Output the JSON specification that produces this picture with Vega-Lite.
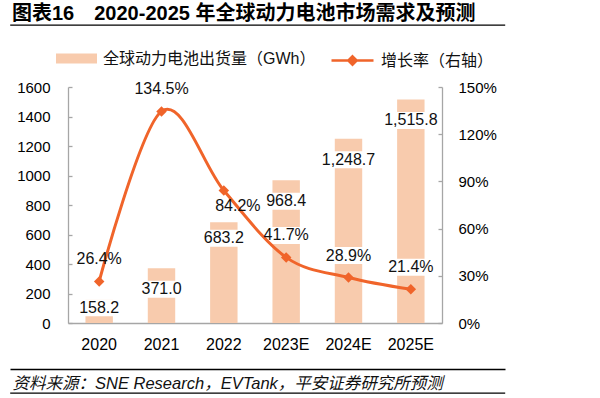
{
  "$schema": "https://vega.github.io/schema/vega-lite/v6.json",
  "background": "white",
  "autosize": "none",
  "width": 495,
  "height": 368,
  "padding": {"left": 10, "top": 25, "right": 95, "bottom": 5},
  "config": {
    "font": "Liberation Sans, Noto Sans CJK SC, sans-serif",
    "view": {"stroke": "#000", "strokeWidth": 1.3, "strokeDash": [495, 368]}
  },
  "title": {
    "text": "图表16\u30002020-2025 年全球动力电池市场需求及预测",
    "anchor": "start",
    "orient": "top",
    "frame": "group",
    "fontSize": 20,
    "fontWeight": "bold",
    "color": "#000",
    "offset": 1,
    "dx": 2
  },
  "data": {
    "values": [
      {"year": "2020", "shipments": 158.2, "growth": 0.264},
      {"year": "2021", "shipments": 371.0, "growth": 1.345},
      {"year": "2022", "shipments": 683.2, "growth": 0.842},
      {"year": "2023E", "shipments": 968.4, "growth": 0.417},
      {"year": "2024E", "shipments": 1248.7, "growth": 0.289},
      {"year": "2025E", "shipments": 1515.8, "growth": 0.214}
    ]
  },
  "layer": [
    {
      "encoding": {
        "x": {
          "field": "year",
          "type": "ordinal",
          "sort": null,
          "scale": {"range": [58, 432], "paddingInner": 0.56, "paddingOuter": 0.28},
          "axis": {
            "title": null,
            "orient": "bottom",
            "offset": -70,
            "labelAngle": 0,
            "labelFontSize": 16,
            "labelColor": "#000",
            "labelPadding": 13,
            "ticks": false,
            "domainColor": "#A6A6A6",
            "domainWidth": 1.3,
            "grid": false
          }
        }
      },
      "layer": [
        {
          "encoding": {
            "y": {
              "field": "shipments",
              "type": "quantitative",
              "scale": {"domain": [0, 1600], "range": [298, 62]},
              "axis": {
                "title": null,
                "orient": "left",
                "offset": -58,
                "format": "d",
                "values": [0, 200, 400, 600, 800, 1000, 1200, 1400, 1600],
                "labelFontSize": 15,
                "labelColor": "#000",
                "tickSize": -4,
                "tickColor": "#A6A6A6",
                "tickWidth": 1.3,
                "domainColor": "#A6A6A6",
                "domainWidth": 1.3,
                "labelPadding": 22,
                "grid": false
              }
            }
          },
          "layer": [
            {
              "mark": {"type": "bar"},
              "encoding": {
                "fill": {
                  "datum": "全球动力电池出货量（GWh）",
                  "type": "nominal",
                  "scale": {"range": ["#F8CBAD"]},
                  "legend": {
                    "title": null,
                    "orient": "none",
                    "legendX": 46,
                    "legendY": 13,
                    "labelFontSize": 16,
                    "labelColor": "#111",
                    "labelLimit": 400,
                    "labelOffset": 6,
                    "symbolType": "M-1,-0.24H1V0.24H-1Z",
                    "symbolSize": 1681,
                    "symbolStrokeWidth": 0,
                    "symbolOpacity": 1
                  }
                }
              }
            },
            {
              "transform": [{"filter": "datum.year === '2020'"}],
              "mark": {"type": "point", "shape": "M-1,-0.5H1V0.5H-1Z", "size": 1156, "filled": true, "color": "white", "opacity": 1, "strokeWidth": 0, "yOffset": 8},
              "encoding": {}
            },
            {
              "transform": [{"filter": "datum.year === '2022'"}],
              "mark": {"type": "point", "shape": "M-1,-0.5H1V0.5H-1Z", "size": 1156, "filled": true, "color": "white", "opacity": 1, "strokeWidth": 0, "yOffset": 16},
              "encoding": {}
            },
            {
              "transform": [{"filter": "datum.year !== '2020' && datum.year !== '2022'"}],
              "mark": {"type": "point", "shape": "M-1,-0.5H1V0.5H-1Z", "size": 1156, "filled": true, "color": "white", "opacity": 1, "strokeWidth": 0, "yOffset": 21},
              "encoding": {}
            },
            {
              "transform": [{"filter": "datum.year === '2020'"}],
              "mark": {"type": "text", "fontSize": 16, "color": "#111", "baseline": "middle", "dy": 8},
              "encoding": {"text": {"field": "shipments", "type": "quantitative", "format": ",.1f"}}
            },
            {
              "transform": [{"filter": "datum.year === '2022'"}],
              "mark": {"type": "text", "fontSize": 16, "color": "#111", "baseline": "middle", "dy": 16},
              "encoding": {"text": {"field": "shipments", "type": "quantitative", "format": ",.1f"}}
            },
            {
              "transform": [{"filter": "datum.year !== '2020' && datum.year !== '2022'"}],
              "mark": {"type": "text", "fontSize": 16, "color": "#111", "baseline": "middle", "dy": 21},
              "encoding": {"text": {"field": "shipments", "type": "quantitative", "format": ",.1f"}}
            }
          ]
        },
        {
          "encoding": {
            "y": {
              "field": "growth",
              "type": "quantitative",
              "scale": {"domain": [0, 1.5], "range": [298, 62]},
              "axis": {
                "title": null,
                "orient": "right",
                "offset": -63,
                "format": ".0%",
                "values": [0, 0.3, 0.6, 0.9, 1.2, 1.5],
                "labelFontSize": 15,
                "labelColor": "#000",
                "tickSize": -4,
                "tickColor": "#A6A6A6",
                "tickWidth": 1.3,
                "domainColor": "#A6A6A6",
                "domainWidth": 1.3,
                "labelPadding": 20,
                "grid": false
              }
            }
          },
          "layer": [
            {
              "transform": [{"filter": "datum.year !== '2022'"}],
              "mark": {"type": "point", "shape": "M-1,-0.5H1V0.5H-1Z", "size": 1156, "filled": true, "color": "white", "opacity": 1, "strokeWidth": 0, "yOffset": -22},
              "encoding": {}
            },
            {
              "mark": {"type": "line", "interpolate": "cardinal", "strokeWidth": 3},
              "encoding": {
                "stroke": {
                  "datum": "增长率（右轴）",
                  "type": "nominal",
                  "scale": {"range": ["#F0642A"]},
                  "legend": {
                    "title": null,
                    "orient": "none",
                    "legendX": 320,
                    "legendY": 13,
                    "labelFontSize": 16,
                    "labelColor": "#111",
                    "labelLimit": 400,
                    "labelOffset": 6,
                    "symbolType": "M-1,0H1M0,-0.2L0.2,0L0,0.2L-0.2,0Z",
                    "symbolSize": 1764,
                    "symbolStrokeWidth": 2.5,
                    "symbolOpacity": 1,
                    "encode": {"symbols": {"update": {"fill": {"value": "#F0642A"}}}}
                  }
                }
              }
            },
            {
              "mark": {"type": "point", "shape": "diamond", "filled": true, "size": 110, "color": "#F0642A", "opacity": 1},
              "encoding": {}
            },
            {
              "transform": [{"filter": "datum.year !== '2022'"}],
              "mark": {"type": "text", "fontSize": 16, "color": "#111", "baseline": "middle", "dy": -22},
              "encoding": {"text": {"field": "growth", "type": "quantitative", "format": ".1%"}}
            },
            {
              "transform": [{"filter": "datum.year === '2022'"}],
              "mark": {"type": "text", "fontSize": 16, "color": "#111", "baseline": "middle", "dy": 15, "dx": 14},
              "encoding": {"text": {"field": "growth", "type": "quantitative", "format": ".1%"}}
            }
          ]
        }
      ],
      "resolve": {"scale": {"y": "independent"}}
    },
    {
      "data": {"values": []},
      "mark": {"type": "point"},
      "encoding": {
        "x": {
          "datum": 0,
          "type": "quantitative",
          "scale": {"domain": [0, 1], "range": [0, 495]},
          "axis": {
            "orient": "bottom",
            "offset": -24,
            "labels": false,
            "ticks": false,
            "grid": false,
            "domainColor": "#000",
            "domainWidth": 1.3,
            "title": "资料来源：SNE Research，EVTank，平安证券研究所预测",
            "titleFontSize": 16.5,
            "titleFontStyle": "italic",
            "titleFontWeight": "normal",
            "titleColor": "#111",
            "titleAnchor": "start",
            "titleAlign": "left",
            "titleBaseline": "middle",
            "titleX": 2,
            "titleY": 14
          }
        }
      }
    }
  ],
  "resolve": {"scale": {"x": "independent"}}
}
